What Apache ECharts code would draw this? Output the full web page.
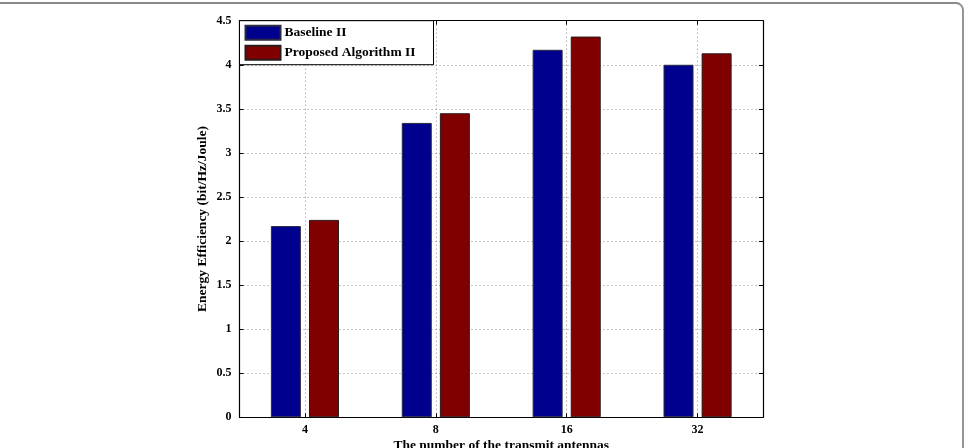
<!DOCTYPE html>
<html>
<head>
<meta charset="utf-8">
<script src="https://cdn.jsdelivr.net/npm/echarts@6/dist/echarts.min.js"></script>
<style>html,body{margin:0;padding:0;background:#fff;}#c{width:968px;height:448px;}</style>
</head>
<body>
<div id="c"></div>
<script>
const categories = ['4', '8', '16', '32'];
const baselineII = [2.17, 3.34, 4.17, 4.00];
const proposedII = [2.24, 3.45, 4.32, 4.13];
const seriesNames = ['Baseline II', 'Proposed Algorithm II'];
const yMin = 0, yMax = 4.5, yStep = 0.5;

const FONT = '"Liberation Serif", "Times New Roman", serif';
const chart = echarts.init(document.getElementById('c'), null, {renderer: 'canvas'});
const grid = {left: 239.5, right: 205, top: 20.7, bottom: 30.7, containLabel: false, outerBoundsMode: 'none'};
const dotted = {show: true, lineStyle: {type: [1, 3], color: '#8c8c8c', width: 1}};

chart.setOption({
  animation: false,
  backgroundColor: '#fff',
  textStyle: {fontFamily: FONT},
  grid: grid,
  graphic: [{
    type: 'rect', silent: true, z: 100,
    shape: {x: -8, y: 3, width: 971, height: 470, r: 7},
    style: {fill: 'none', stroke: '#8a8a8a', lineWidth: 1.8}
  }],
  legend: {
    orient: 'vertical', left: 239.5, top: 20.7,
    padding: [4, 18, 4, 5], itemGap: 4, itemWidth: 35, itemHeight: 14,
    icon: 'rect',
    backgroundColor: '#fff', borderColor: '#000', borderWidth: 1,
    textStyle: {fontFamily: FONT, fontWeight: 'bold', fontSize: 13.5, color: '#000', padding: [0, 0, 0, -1]},
    data: seriesNames, z: 10
  },
  xAxis: [{
    type: 'category', data: categories, position: 'bottom',
    name: 'The number of the transmit antennas', nameLocation: 'middle', nameGap: 21,
    nameMoveOverlap: false,
    nameTextStyle: {fontFamily: FONT, fontWeight: 'bold', fontSize: 13.5, color: '#000'},
    axisLine: {show: true, lineStyle: {color: '#000', width: 1.2}},
    axisTick: {show: true, inside: true, length: 4, alignWithLabel: true, lineStyle: {color: '#000'}},
    axisLabel: {fontFamily: FONT, fontWeight: 'bold', fontSize: 12, color: '#000', margin: 7},
    splitLine: Object.assign({alignWithLabel: true}, dotted)
  }, {
    type: 'category', data: categories, position: 'top',
    axisLine: {show: true, onZero: false, lineStyle: {color: '#000', width: 1.2}},
    axisTick: {show: true, inside: true, length: 4, alignWithLabel: true, lineStyle: {color: '#000'}},
    axisLabel: {show: false}, splitLine: {show: false}
  }],
  yAxis: [{
    type: 'value', min: yMin, max: yMax, interval: yStep, position: 'left',
    name: 'Energy Efficiency (bit/Hz/Joule)', nameLocation: 'middle', nameGap: 30,
    nameMoveOverlap: false,
    nameTextStyle: {fontFamily: FONT, fontWeight: 'bold', fontSize: 13.5, color: '#000'},
    axisLine: {show: true, lineStyle: {color: '#000', width: 1.2}},
    axisTick: {show: true, inside: true, length: 4, lineStyle: {color: '#000'}},
    axisLabel: {fontFamily: FONT, fontWeight: 'bold', fontSize: 12, color: '#000', margin: 8},
    splitLine: dotted
  }, {
    type: 'value', min: yMin, max: yMax, interval: yStep, position: 'right',
    axisLine: {show: true, onZero: false, lineStyle: {color: '#000', width: 1.2}},
    axisTick: {show: true, inside: true, length: 4, lineStyle: {color: '#000'}},
    axisLabel: {show: false}, splitLine: {show: false}
  }],
  series: [{
    name: seriesNames[0], type: 'bar', data: baselineII,
    barWidth: 30, barGap: '27%',
    itemStyle: {color: '#00008f', borderColor: '#2a2a40', borderWidth: 1}
  }, {
    name: seriesNames[1], type: 'bar', data: proposedII,
    barWidth: 30, barGap: '27%',
    itemStyle: {color: '#800000', borderColor: '#2a1a1a', borderWidth: 1}
  }]
});
</script>
</body>
</html>
